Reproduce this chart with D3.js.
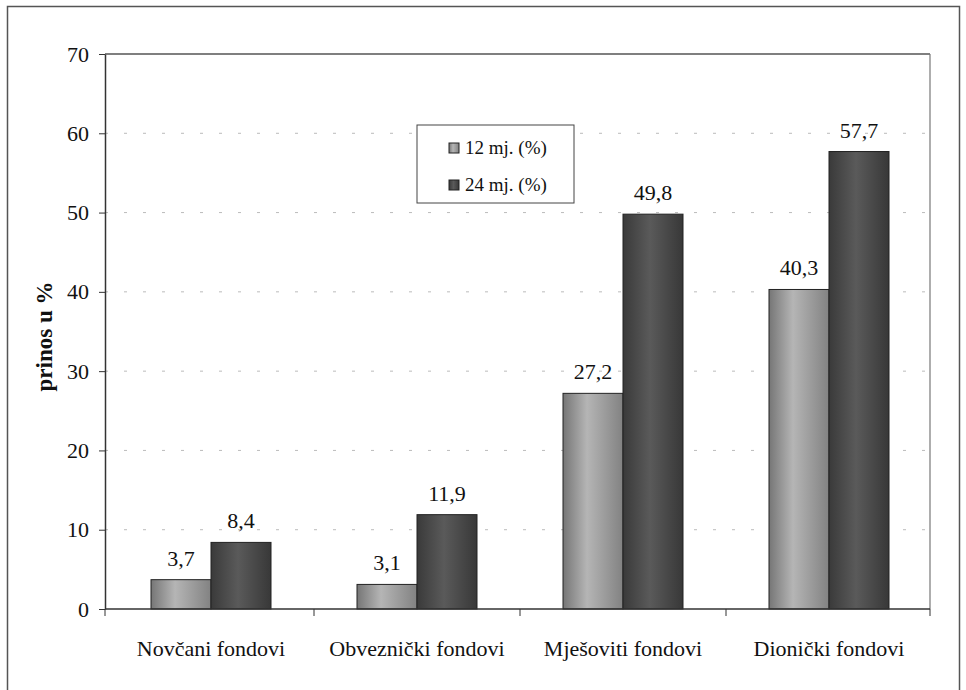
<!DOCTYPE html>
<html>
<head>
<meta charset="utf-8">
<script src="https://cdn.jsdelivr.net/npm/d3@7"></script>
<style>
html,body{margin:0;padding:0;background:#fff;}
svg{display:block;}
</style>
</head>
<body>
<script>
const categories = ["Novčani fondovi", "Obveznički fondovi", "Mješoviti fondovi", "Dionički fondovi"];
const seriesNames = ["12 mj. (%)", "24 mj. (%)"];
const values12 = [3.7, 3.1, 27.2, 40.3];
const values24 = [8.4, 11.9, 49.8, 57.7];
const yTicks = [0, 10, 20, 30, 40, 50, 60, 70];

const FONT = "'Liberation Serif', 'Times New Roman', serif";
const W = 966, H = 690;
const svg = d3.select("body").append("svg").attr("width", W).attr("height", H)
  .style("font-family", FONT);

const defs = svg.append("defs");
const g1 = defs.append("linearGradient").attr("id", "gLight").attr("x1", "0").attr("x2", "1").attr("y1", "0").attr("y2", "0");
g1.append("stop").attr("offset", "0%").attr("stop-color", "#767676");
g1.append("stop").attr("offset", "40%").attr("stop-color", "#b5b5b5");
g1.append("stop").attr("offset", "100%").attr("stop-color", "#828282");
const g2 = defs.append("linearGradient").attr("id", "gDark").attr("x1", "0").attr("x2", "1").attr("y1", "0").attr("y2", "0");
g2.append("stop").attr("offset", "0%").attr("stop-color", "#3a3a3a");
g2.append("stop").attr("offset", "45%").attr("stop-color", "#5a5a5a");
g2.append("stop").attr("offset", "100%").attr("stop-color", "#383838");
const fills = ["url(#gLight)", "url(#gDark)"];

// outer frame
svg.append("rect").attr("x", 7.5).attr("y", 6.5).attr("width", 952).attr("height", 690)
  .attr("fill", "none").attr("stroke", "#555").attr("stroke-width", 1.5);

const m = {left: 105, top: 54, right: 930, bottom: 609};
const x = d3.scaleBand().domain(categories).range([108, 932]);
const y = d3.scaleLinear().domain([0, 70]).range([m.bottom, m.top]);
const barW = 60;

// gridlines
svg.append("g").selectAll("line").data(yTicks.filter(t => t > 0 && t < 70)).join("line")
  .attr("x1", m.left).attr("x2", m.right).attr("y1", d => y(d)).attr("y2", d => y(d))
  .attr("stroke", "#bbb").attr("stroke-width", 1).attr("stroke-dasharray", "3,16");

// plot border top & right
svg.append("line").attr("x1", m.left).attr("x2", m.right).attr("y1", y(70)).attr("y2", y(70))
  .attr("stroke", "#555").attr("stroke-width", 1.5);
svg.append("line").attr("x1", m.right).attr("x2", m.right).attr("y1", y(70)).attr("y2", m.bottom)
  .attr("stroke", "#777").attr("stroke-width", 1.2);

// bars
const series = [values12, values24];
series.forEach((vals, si) => {
  svg.append("g").selectAll("rect").data(categories).join("rect")
    .attr("x", (c) => x(c) + x.bandwidth() / 2 - barW + si * barW)
    .attr("y", (c, i) => y(vals[i]))
    .attr("width", barW)
    .attr("height", (c, i) => y(0) - y(vals[i]))
    .attr("fill", fills[si]).attr("stroke", "#222").attr("stroke-width", 1);
  svg.append("g").selectAll("text").data(categories).join("text")
    .attr("x", (c) => x(c) + x.bandwidth() / 2 - barW / 2 + si * barW)
    .attr("y", (c, i) => y(vals[i]) - 14)
    .attr("text-anchor", "middle").attr("font-size", 22).attr("fill", "#111")
    .text((c, i) => String(vals[i]).replace(".", ","));
});

// y axis
const yAxis = d3.axisLeft(y).tickValues(yTicks).tickSize(6).tickSizeOuter(0).tickPadding(10).tickFormat(d3.format("d"));
const ya = svg.append("g").attr("transform", `translate(${m.left},0)`).call(yAxis)
  .attr("font-family", FONT);
ya.select(".domain").attr("stroke", "#333").attr("stroke-width", 1.5);
ya.selectAll(".tick line").attr("stroke", "#333");
ya.selectAll(".tick text").attr("font-size", 22).attr("fill", "#111");

// x axis
const xa = svg.append("g").attr("transform", `translate(0,${m.bottom})`)
  .call(d3.axisBottom(x).tickSize(0).tickSizeOuter(0).tickPadding(31))
  .attr("font-family", FONT);
xa.select(".domain").remove();
svg.append("line").attr("x1", m.left).attr("x2", m.right).attr("y1", m.bottom).attr("y2", m.bottom)
  .attr("stroke", "#333").attr("stroke-width", 1.5);
xa.selectAll(".tick text").attr("font-size", 22).attr("fill", "#111");
// category separators
const seps = categories.slice(0, -1).map(c => x(c) + x.bandwidth()).concat([m.left, m.right]);
svg.append("g").selectAll("line").data(seps).join("line")
  .attr("x1", d => d).attr("x2", d => d).attr("y1", m.bottom).attr("y2", m.bottom + 7)
  .attr("stroke", "#333").attr("stroke-width", 1);

// y title
svg.append("text").attr("transform", `translate(52,${(m.top + m.bottom) / 2 + 5}) rotate(-90)`)
  .attr("text-anchor", "middle").attr("font-size", 23).attr("font-weight", "bold").attr("fill", "#111")
  .text("prinos u %");

// legend
const lg = svg.append("g");
lg.append("rect").attr("x", 417).attr("y", 125).attr("width", 157).attr("height", 78)
  .attr("fill", "#fff").attr("stroke", "#444").attr("stroke-width", 1);
seriesNames.forEach((n, i) => {
  const yy = 148 + i * 37;
  lg.append("rect").attr("x", 449).attr("y", yy - 5).attr("width", 10).attr("height", 10)
    .attr("fill", fills[i]).attr("stroke", "#222").attr("stroke-width", 1);
  lg.append("text").attr("x", 465).attr("y", yy + 6).attr("font-size", 19).attr("fill", "#111").text(n);
});
</script>
</body>
</html>
